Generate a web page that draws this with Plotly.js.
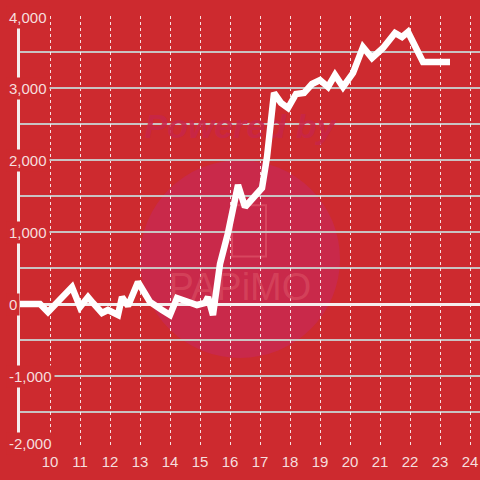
<!DOCTYPE html>
<html>
<head>
<meta charset="utf-8">
<script src="https://cdn.plot.ly/plotly-3.0.1.min.js"></script>
<style>html,body{margin:0;padding:0;background:#cd2a2f;}#chart{width:480px;height:480px;}</style>
</head>
<body>
<div id="chart"></div>
<script>
// Time of day (hours) and running value
const hours = [9.0, 9.667, 9.933, 10.733, 11.0, 11.267, 11.433, 11.733, 11.933, 12.267, 12.4, 12.6, 12.933, 13.133, 13.333, 13.733, 14.0, 14.233, 14.6, 14.9, 15.167, 15.267, 15.433, 15.667, 15.933, 16.267, 16.5, 16.767, 17.067, 17.233, 17.467, 17.7, 17.933, 18.2, 18.467, 18.733, 19.0, 19.267, 19.5, 19.767, 20.1, 20.433, 20.733, 21.1, 21.5, 21.733, 21.933, 22.433, 23.333];
const values = [0, 0, -111, 236, -42, 97, 14, -125, -83, -153, 97, -28, 306, 181, 28, -83, -153, 83, 28, -14, 14, 97, -153, 556, 986, 1653, 1347, 1486, 1611, 2042, 2931, 2792, 2722, 2917, 2931, 3056, 3111, 3014, 3181, 3014, 3208, 3569, 3417, 3556, 3764, 3708, 3778, 3361, 3361];
const xTicks = [10, 11, 12, 13, 14, 15, 16, 17, 18, 19, 20, 21, 22, 23, 24];
const yTicks = [4000, 3000, 2000, 1000, 0, -1000, -2000];
const yTickLabels = ["4,000", "3,000", "2,000", "1,000", "0", "-1,000", "-2,000"];
const watermarkTop = "<b><i>Powered by</i></b>";
const watermarkBottom = "PAPiMO";

const BG = '#cd2a2f';
const labelColor = '#f6dede';

const annotations = yTicks.map((v, i) => ({
  xref: 'paper', yref: 'y', x: -14/460, y: v,
  xanchor: 'left', yanchor: 'middle',
  yshift: v === -2000 ? 5 : (v === 4000 ? -1 : 0),
  text: yTickLabels[i], showarrow: false,
  bgcolor: BG, borderpad: 2,
  font: {family: 'Liberation Sans, Arial, sans-serif', size: 15, color: labelColor}
}));

const traces = [
  {
    x: [16.33], y: [2417], mode: 'text', text: [watermarkTop],
    textfont: {family: 'Liberation Sans, Arial, sans-serif', size: 34, color: 'rgba(200,38,72,0.9)'},
    hoverinfo: 'skip', showlegend: false, cliponaxis: false
  },
  {
    x: [16.33], y: [190], mode: 'text', text: [watermarkBottom],
    textfont: {family: 'Liberation Sans, Arial, sans-serif', size: 38, color: 'rgba(225,95,110,0.45)'},
    hoverinfo: 'skip', showlegend: false, cliponaxis: false
  },
  {
    x: hours, y: values, mode: 'lines',
    line: {color: '#ffffff', width: 6.5},
    hoverinfo: 'skip', showlegend: false
  }
];

const layout = {
  width: 480, height: 480,
  margin: {l: 20, r: 0, t: 16, b: 32, pad: 0},
  paper_bgcolor: BG, plot_bgcolor: BG,
  showlegend: false,
  xaxis: {
    range: [9, 24.333], tickvals: xTicks, ticktext: xTicks.map(String),
    showgrid: true, gridcolor: 'rgba(255,255,255,0.85)', griddash: 'dot', gridwidth: 1,
    zeroline: false, showline: false, ticks: '', ticklabelstandoff: 3,
    tickfont: {family: 'Liberation Sans, Arial, sans-serif', size: 15, color: labelColor}
  },
  yaxis: {
    range: [-2000, 4000], tickvals: yTicks, showticklabels: false,
    showgrid: true, gridcolor: '#c9c3c3', gridwidth: 1.3,
    minor: {dtick: 500, tick0: 0, showgrid: true, gridcolor: '#c9c3c3', gridwidth: 1.3, ticks: ''},
    zeroline: true, zerolinecolor: '#f5eeee', zerolinewidth: 3,
    showline: true, linecolor: '#f5eeee', linewidth: 3, ticks: ''
  },
  shapes: [
    {type: 'circle', layer: 'below', xref: 'x', yref: 'y', x0: 13.0, x1: 19.667, y0: -750, y1: 2000, fillcolor: '#c9294a', line: {width: 0}},
    {type: 'rect', layer: 'below', xref: 'x', yref: 'y', x0: 16.07, x1: 17.2, y0: 660, y1: 1370, fillcolor: 'rgba(0,0,0,0)', line: {color: 'rgba(225,90,110,0.6)', width: 2}}
  ],
  annotations: annotations
};

Plotly.newPlot('chart', traces, layout, {staticPlot: true, displayModeBar: false});
</script>
</body>
</html>
